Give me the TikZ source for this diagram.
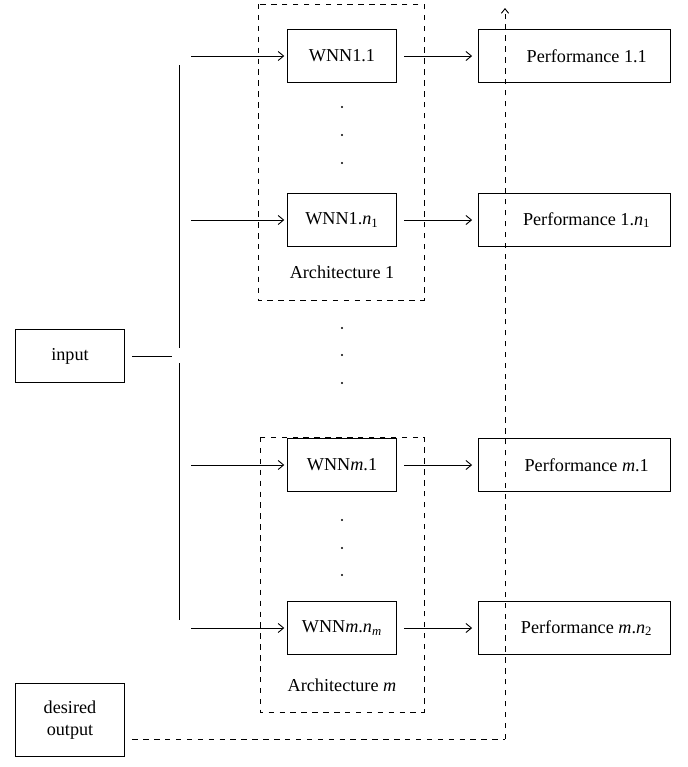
\documentclass[tikz,border=0pt]{standalone}
\usepackage{fontspec}
\setmainfont{Liberation Serif}
\usetikzlibrary{arrows.meta}
\newcommand{\ital}[1]{\textit{#1}}
\begin{document}
\begin{tikzpicture}[x=0.55pt,y=-0.55pt,
  box/.style={draw,line width=0.5pt,minimum width=60pt,minimum height=29.5pt,inner sep=0pt},
  wnn/.style={box,minimum width=60pt},
  perf/.style={box,minimum width=105.6pt},
  frame/.style={draw,dashed,line width=0.5pt},
  arr/.style={line width=0.5pt,-{Straight Barb[length=3pt,width=5pt]}},
  ln/.style={line width=0.5pt},
  dot/.style={circle,fill,inner sep=0pt,minimum size=1.3pt}]
\useasboundingbox (0,0) rectangle (688,767);
% frames
\draw[frame] (258,4) rectangle (424,300);
\draw[frame] (260,437) rectangle (424,712);
% input side
\node[box] (in) at (70,356) {input};
\node[box,minimum height=40pt,align=center] (des) at (70,720) {desired\\output};
\coordinate (j) at (172,356);
\draw[ln] ([xshift=4pt]in.east) -- (j);
\draw[ln] (179,65) -- (179,348);
\draw[ln] (179,363) -- (179,620);
% WNN nodes
\node[wnn] (w11) at (342,56) {WNN1.1};
\node[wnn] (w1n) at (342,220) {WNN1.\ital{n}\textsubscript{1}};
\node[wnn] (wm1) at (342,465) {WNN\ital{m}.1};
\node[wnn] (wmn) at (342,628) {WNN\ital{m}.\ital{n}\textsubscript{\ital{m}}};
\node at (342,272) {Architecture 1};
\node at (342,685) {Architecture \ital{m}};
% dots
\foreach \y in {107,135,163,328,355,383,520,548,575}
  \node[dot] at (342,\y) {};
% performance
\node[perf] (p11) at (574,56) {\hspace{14pt}Performance 1.1};
\node[perf] (p1n) at (574,220) {\hspace{14pt}Performance 1.\ital{n}\textsubscript{1}};
\node[perf] (pm1) at (574,465) {\hspace{14pt}Performance \ital{m}.1};
\node[perf] (pmn) at (574,628) {\hspace{14pt}Performance \ital{m}.\ital{n}\textsubscript{2}};
% input arrows
\foreach \n in {w11,w1n,wm1,wmn}
  \draw[arr] (\n.west) ++(-96,0) -- ([xshift=-1.5pt]\n.west);
% output arrows
\draw[arr] ([xshift=4pt]w11.east) -- ([xshift=-3pt]p11.west);
\draw[arr] ([xshift=4pt]w1n.east) -- ([xshift=-3pt]p1n.west);
\draw[arr] ([xshift=4pt]wm1.east) -- ([xshift=-3pt]pm1.west);
\draw[arr] ([xshift=4pt]wmn.east) -- ([xshift=-3pt]pmn.west);
% desired output dashed
\coordinate (c) at (505,739);
\coordinate (top) at (505,8);
\draw[ln,dashed] ([xshift=4pt]des.east |- c) -- (c);
\draw[ln,dashed,-{Straight Barb[length=2.5pt,width=4pt]}] (c) -- (top);
\end{tikzpicture}
\end{document}
